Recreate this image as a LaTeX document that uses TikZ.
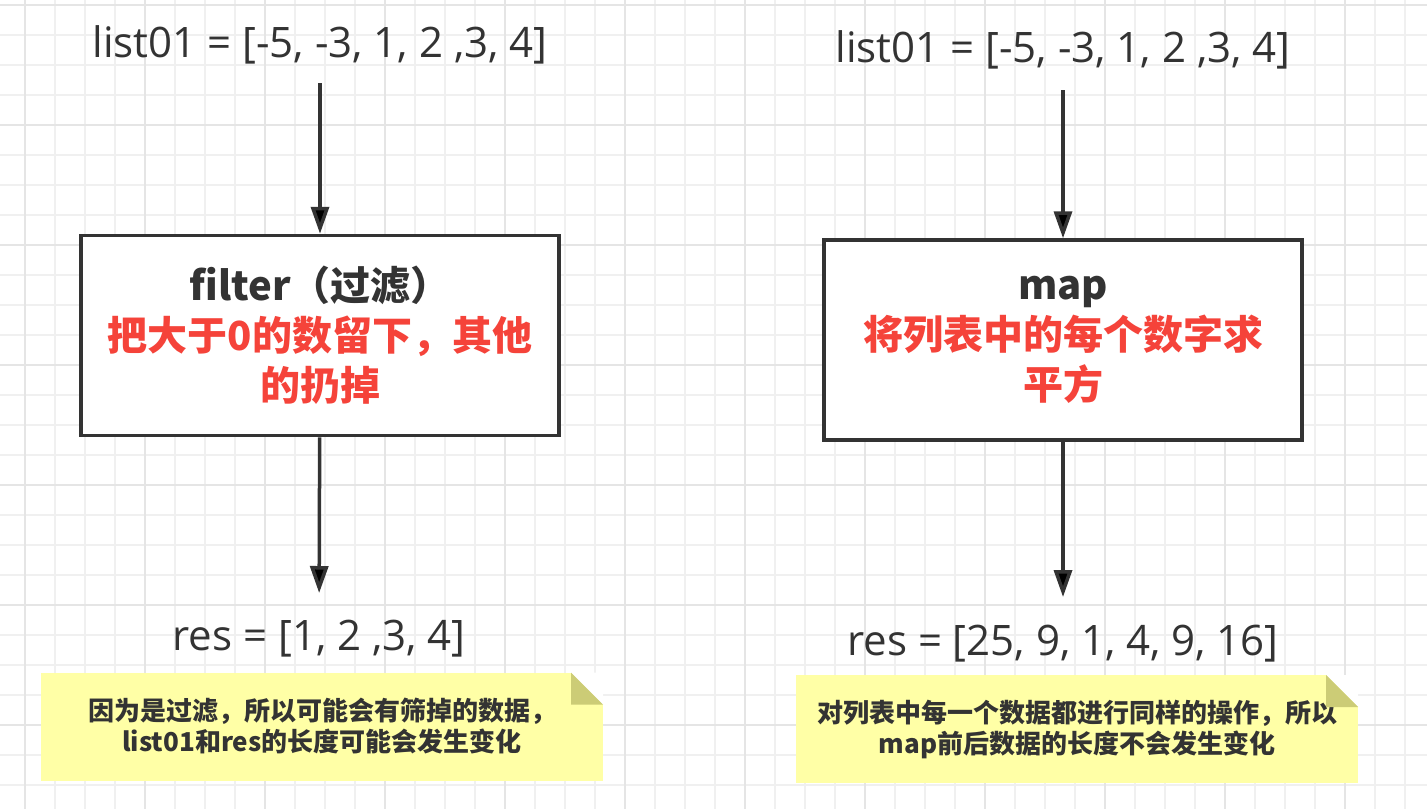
\documentclass[tikz,border=0pt]{standalone}
\usepackage{fontspec}
\setmainfont{Open Sans}
\newfontfamily\cjkfont{Noto Sans CJK SC}
\usepackage{tikz}
\usetikzlibrary{arrows.meta}
\usetikzlibrary{positioning}

\definecolor{inkgray}{HTML}{333333}
\definecolor{markred}{HTML}{F5433A}
\definecolor{notefill}{HTML}{FFFFA6}
\definecolor{notefold}{HTML}{CCCC76}

\begin{document}
\begin{tikzpicture}[x=1pt,y=-1pt,>={Triangle[length=27pt,width=18pt]},
	line width=3.5pt,
	grid line/.style={line width=1.5pt,draw=black!6},
	grid major/.style={line width=1.5pt,draw=black!10},
	list node/.style={inner sep=0pt,outer sep=0pt,text height=32pt,text depth=8pt,
		anchor=base,text=inkgray,font=\fontsize{42}{50}\selectfont},
	op node/.style={rectangle,draw=inkgray,fill=white,line width=3.5pt,
		minimum width=478pt,minimum height=200pt,align=center,text=inkgray,
		font=\cjkfont\bfseries\fontsize{40}{50}\selectfont},
	note node/.style={rectangle,fill=notefill,outer sep=0pt,
		minimum width=562pt,minimum height=108pt,align=center,text=inkgray,
		font=\cjkfont\bfseries\fontsize{26}{31}\selectfont}]
	
	\useasboundingbox (0,0) rectangle (1427,809);
	\fill[white] (0,0) rectangle (1427,809);
	
	% background grid
	\foreach \gx in {25,55,...,1405} \draw[grid line] (\gx,0) -- (\gx,809);
	\foreach \gy in {5,35,...,785} \draw[grid line] (0,\gy) -- (1427,\gy);
	\foreach \gx in {25,145,...,1345} \draw[grid major] (\gx,0) -- (\gx,809);
	\foreach \gy in {5,125,...,725} \draw[grid major] (0,\gy) -- (1427,\gy);
	
	% filter
	\node[list node] (l1) at (320,57) {list01 = [-5, -3, 1, 2 ,3, 4]};
	\node[op node] (f) at (320,335.5) {filter（过滤）\\
		\textcolor{markred}{把大于0的数留下，其他}\\
		\textcolor{markred}{的扔掉}};
	\node[list node] (r1) at (319,650) {res = [1, 2 ,3, 4]};
	\node[note node] (n1) at (322,726.5) {因为是过滤，所以可能会有筛掉的数据，\\
		list01和res的长度可能会发生变化};
	
	% map
	\node[list node] (l2) at (1063,62) {list01 = [-5, -3, 1, 2 ,3, 4]};
	\node[op node] (m) at (1063,340) {map\\
		\textcolor{markred}{将列表中的每个数字求}\\
		\textcolor{markred}{平方}};
	\node[list node] (r2) at (1063,655) {res = [25, 9, 1, 4, 9, 16]};
	\node[note node] (n2) at (1077,729) {对列表中每一个数据都进行同样的操作，所以\\
		map前后数据的长度不会发生变化};
	
	% folded corners
	\foreach \n in {n1,n2} {
		\fill[white] ([xshift=-32pt]\n.north east) -- (\n.north east)
			-- ([yshift=-32pt]\n.north east) -- cycle;
		\fill[notefold] ([xshift=-32pt]\n.north east)
			-- ([xshift=-32pt,yshift=-32pt]\n.north east)
			-- ([yshift=-32pt]\n.north east) -- cycle;
	}
	
	\path[->,draw=inkgray]
	(l1) edge [shorten <=18pt] (f)
	(f)  edge [shorten >=25pt] (r1)
	(l2) edge [shorten <=20pt] (m)
	(m)  edge [shorten >=26pt] (r2);
\end{tikzpicture}
\end{document}
